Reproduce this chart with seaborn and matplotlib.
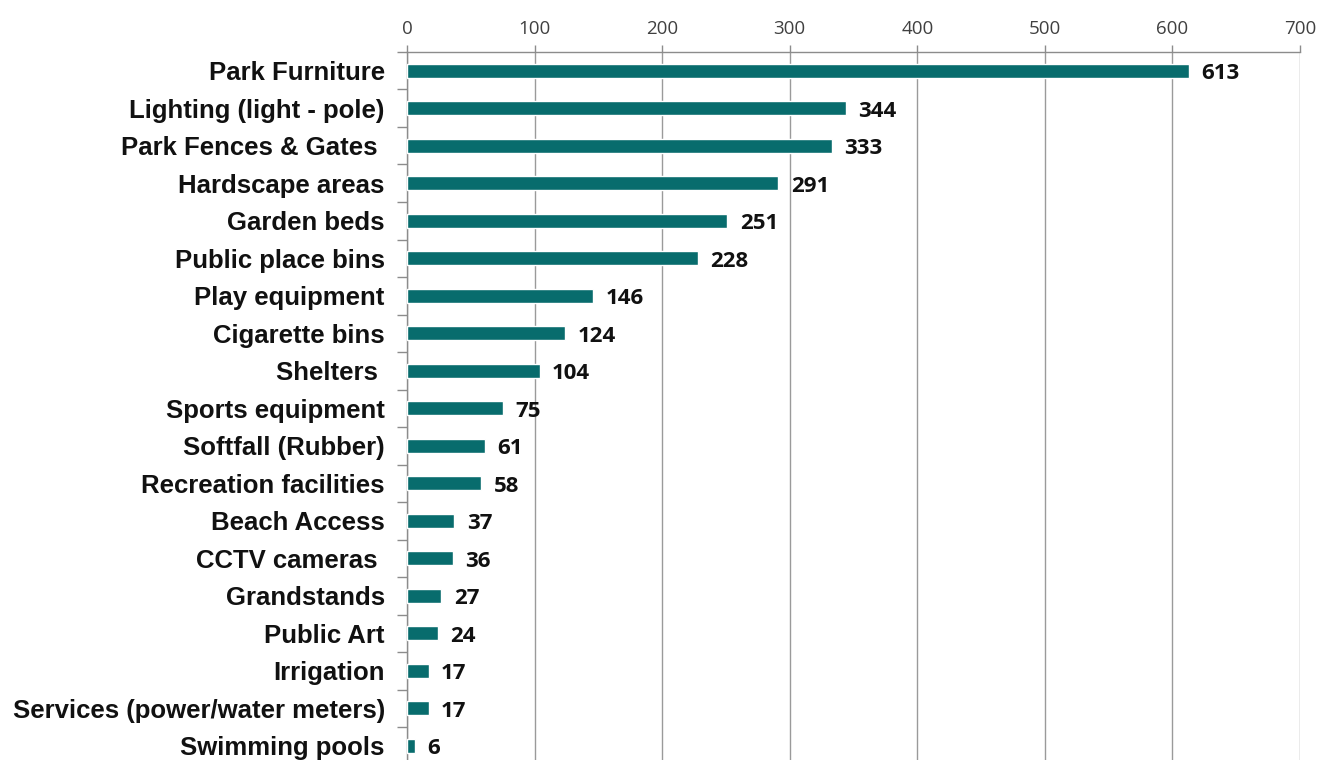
import matplotlib
matplotlib.use("Agg")
import matplotlib.pyplot as plt
import seaborn as sns
import numpy as np
from matplotlib.ticker import FixedLocator

categories = [
    "Park Furniture", "Lighting (light - pole)", "Park Fences & Gates ",
    "Hardscape areas", "Garden beds", "Public place bins", "Play equipment",
    "Cigarette bins", "Shelters ", "Sports equipment", "Softfall (Rubber)",
    "Recreation facilities", "Beach Access", "CCTV cameras ", "Grandstands",
    "Public Art", "Irrigation", "Services (power/water meters)", "Swimming pools",
]
counts = [613, 344, 333, 291, 251, 228, 146, 124, 104, 75, 61, 58, 37, 36, 27, 24, 17, 17, 6]
x_ticks = [0, 100, 200, 300, 400, 500, 600, 700]

sns.set_theme(style="white")
plt.rcParams["font.family"] = ["Liberation Sans", "DejaVu Sans"]

fig = plt.figure(figsize=(13.21, 7.60), dpi=100)
ax = fig.add_axes([407 / 1321, -0.006, (1300 - 407) / 1321, 0.9376])

bar_color = "#086C6D"
sns.barplot(x=counts, y=categories, orient="h", color=bar_color,
            width=0.37, saturation=1, ax=ax, zorder=3)

ax.set_xlim(0, 700)
ax.set_ylim(len(categories) - 0.5, -0.5)
ax.xaxis.tick_top()
ax.xaxis.set_major_locator(FixedLocator(x_ticks))
ax.set_xticklabels([str(t) for t in x_ticks], fontfamily="Open Sans",
                   fontsize=13.5, color="#404040")
ax.tick_params(axis="x", which="major", direction="out", length=5, width=1,
               color="#8C8C8C", pad=5, top=True, bottom=False)
ax.grid(axis="x", color="#9A9A9A", linewidth=1, zorder=0)
ax.grid(axis="y", visible=False)

# category labels with small ticks between categories
ax.set_yticks(range(len(categories)))
ax.set_yticklabels(categories, fontsize=18.5, fontweight="bold", color="#111111")
ax.tick_params(axis="y", which="major", length=0, pad=16)
ax.set_yticks(np.arange(-0.5, len(categories), 1), minor=True)
ax.tick_params(axis="y", which="minor", direction="out", length=7, width=1,
               color="#8C8C8C", left=True)
ax.set_xlabel("")
ax.set_ylabel("")

for side in ("right", "bottom"):
    ax.spines[side].set_visible(False)
for side in ("top", "left"):
    ax.spines[side].set_visible(True)
    ax.spines[side].set_color("#8C8C8C")
    ax.spines[side].set_linewidth(1)

# value labels at the end of each bar
for i, v in enumerate(counts):
    ax.annotate(str(v), xy=(v, i), xytext=(9, -2), textcoords="offset points",
                ha="left", va="center", fontsize=16, fontweight="bold",
                fontfamily="Open Sans", color="#111111")

fig.patch.set_facecolor("white")
ax.set_facecolor("white")
fig.savefig("out.png", dpi=100)
